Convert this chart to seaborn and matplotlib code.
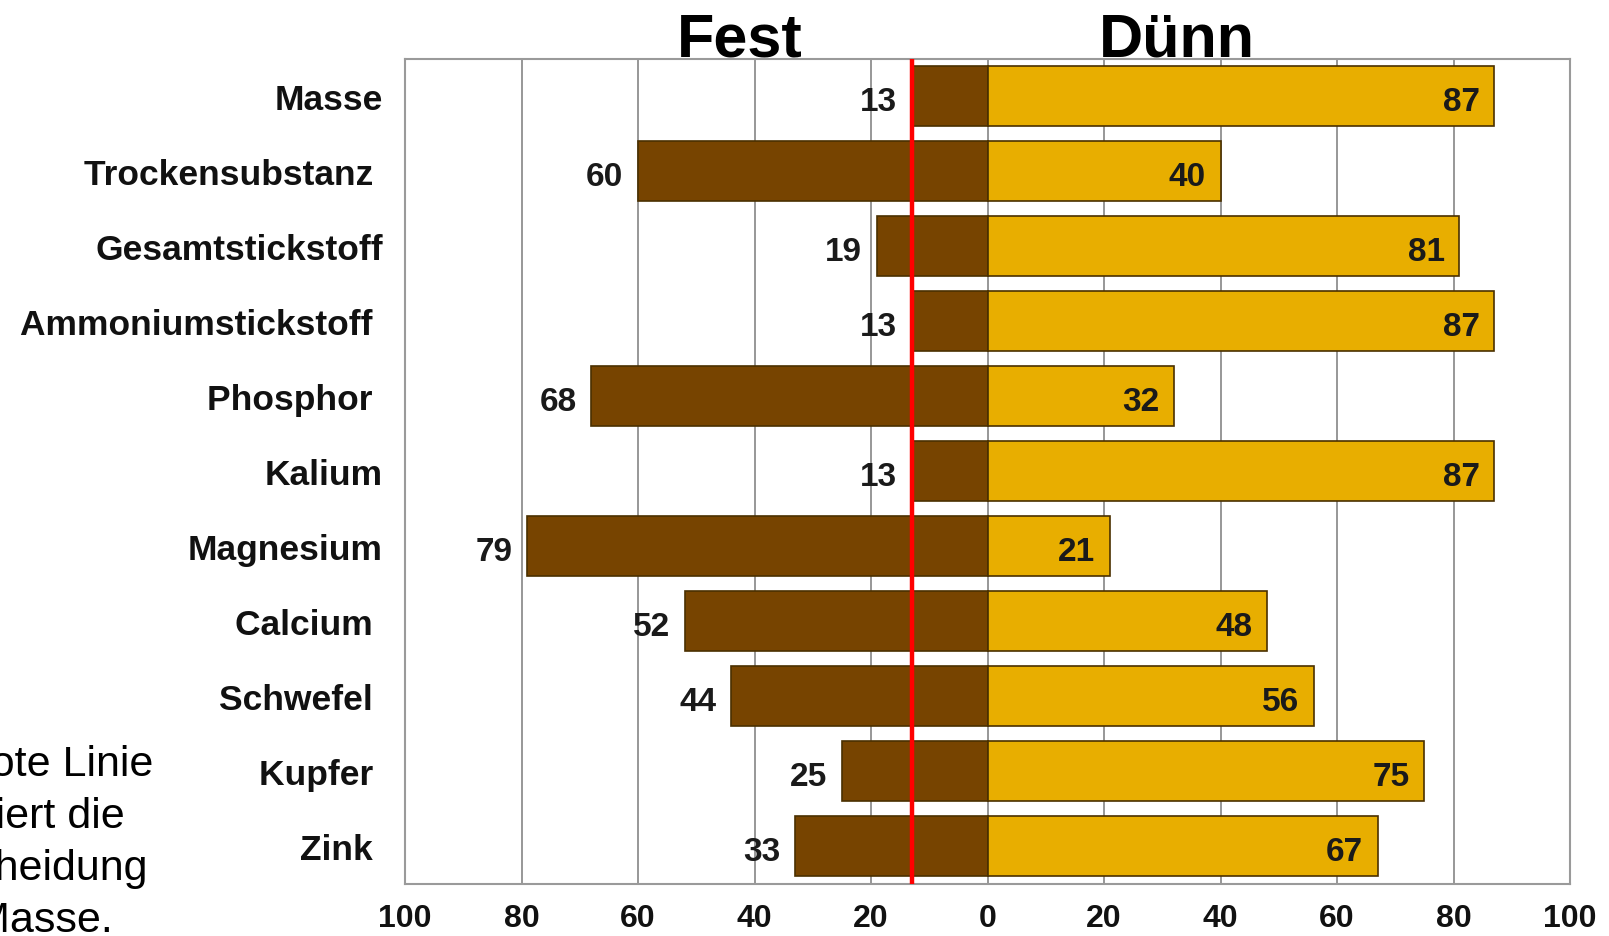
import numpy as np
import pandas as pd
import matplotlib.pyplot as plt
import matplotlib.transforms as mtransforms
import seaborn as sns

# Data (percent share)
categories = ['Masse', 'Trockensubstanz', 'Gesamtstickstoff', 'Ammoniumstickstoff',
              'Phosphor', 'Kalium', 'Magnesium', 'Calcium', 'Schwefel', 'Kupfer', 'Zink']
# labels as they appear (some carry a trailing blank in the original)
display_labels = ['Masse', 'Trockensubstanz ', 'Gesamtstickstoff', 'Ammoniumstickstoff ',
                  'Phosphor ', 'Kalium', 'Magnesium', 'Calcium ', 'Schwefel ', 'Kupfer ', 'Zink ']
fest = [13, 60, 19, 13, 68, 13, 79, 52, 44, 25, 33]
duenn = [87, 40, 81, 87, 32, 87, 21, 48, 56, 75, 67]
tick_values = [-100, -80, -60, -40, -20, 0, 20, 40, 60, 80, 100]
tick_labels = ['100', '80', '60', '40', '20', '0', '20', '40', '60', '80', '100']
mass_split = 13
note = 'Die rote Linie\nmarkiert die\nAbscheidung\nder Masse.'

brown = '#774400'
gold = '#E8AE00'
edge = '#4a3000'

sns.set_theme(style='white')
plt.rcParams['font.family'] = ['Liberation Sans', 'DejaVu Sans']

W, H = 1609, 937
fig = plt.figure(figsize=(W / 100, H / 100), dpi=100)
ax = fig.add_axes([405 / W, 1 - 884.6 / H, 1165 / W, 825 / H])

df = pd.DataFrame({'Parameter': categories,
                   'Fest': -np.array(fest),
                   'Duenn': duenn})

sns.barplot(data=df, y='Parameter', x='Fest', color=brown, saturation=1,
            width=0.8, edgecolor=edge, linewidth=1.2, ax=ax, zorder=2)
sns.barplot(data=df, y='Parameter', x='Duenn', color=gold, saturation=1,
            width=0.8, edgecolor=edge, linewidth=1.2, ax=ax, zorder=2)

# red line marking the split of the mass
ax.axvline(-mass_split, color='#ff0000', lw=3.2, zorder=4)

# value labels
for i, (f, d) in enumerate(zip(fest, duenn)):
    ax.text(-f - 2.5, i + 0.02, str(f), ha='right', va='center_baseline', fontsize=24,
            fontweight='bold', color='#1a1a1a', zorder=5)
    ax.text(d - 2.5, i + 0.02, str(d), ha='right', va='center_baseline', fontsize=24,
            fontweight='bold', color='#1a1a1a', zorder=5)

ax.set_xlim(-100, 100)
ax.set_ylim(len(categories) - 0.5, -0.5)
ax.set_xticks(tick_values)
ax.set_xticklabels(tick_labels, fontsize=23, fontweight='bold')
ax.set_yticks(range(len(categories)))
ax.set_yticklabels(display_labels, fontsize=25.5, fontweight='bold')
ax.tick_params(axis='x', length=0, pad=14, colors='#111111')
ax.tick_params(axis='y', length=0, pad=16, colors='#111111')
ax.set_xlabel('')
ax.set_ylabel('')

ax.xaxis.grid(True, color='#7a7a7a', lw=1.1)
ax.set_axisbelow(True)
for s in ax.spines.values():
    s.set_color('#9a9a9a')
    s.set_linewidth(1.5)

# headings above the two halves
trans = mtransforms.blended_transform_factory(ax.transData, ax.transAxes)
ax.text(-42.5, 1.004, 'Fest', transform=trans, ha='center', va='baseline',
        fontsize=44, fontweight='bold', color='black')
ax.text(32.5, 1.004, 'Dünn', transform=trans, ha='center', va='baseline',
        fontsize=44, fontweight='bold', color='black')

# side note, partly cut off at the left edge as in the original
fig.text(-100 / W, 1 - 843 / H, note, ha='left', va='center', fontsize=31,
         linespacing=1.38, color='black')

fig.savefig('out.png', dpi=100)
